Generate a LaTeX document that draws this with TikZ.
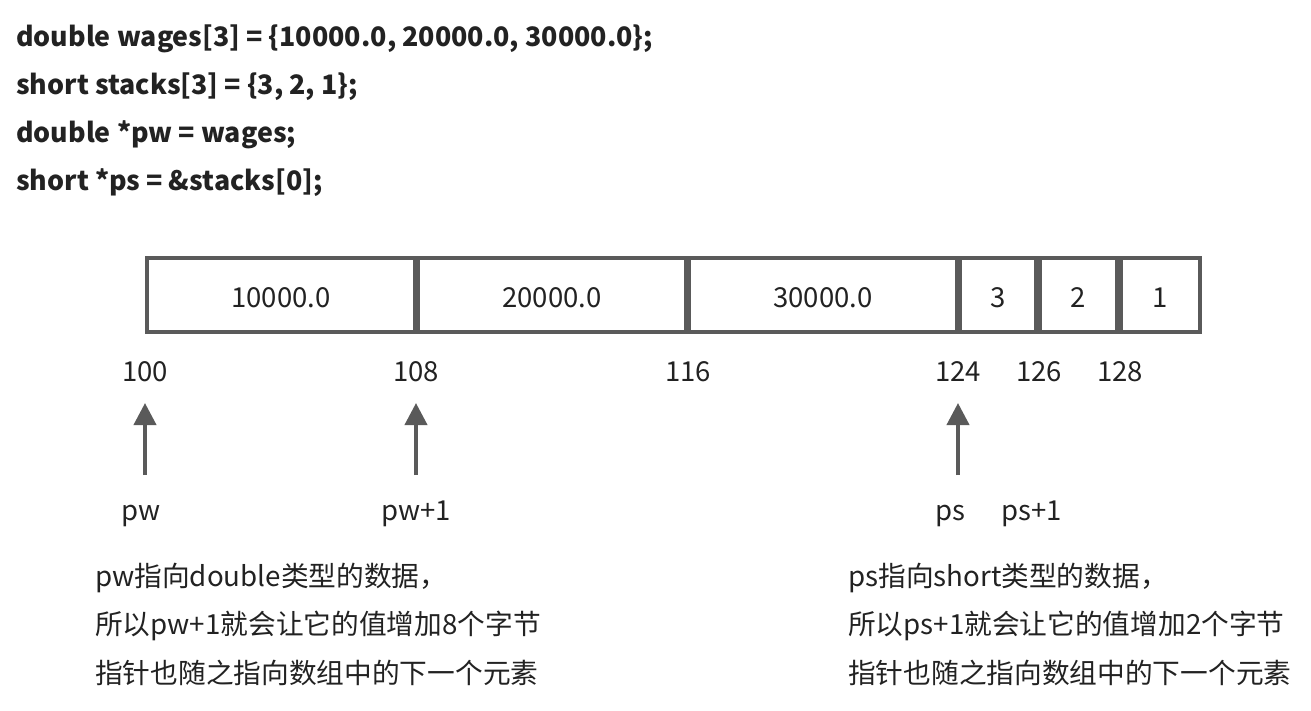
\documentclass[tikz,border=0pt]{standalone}
\usepackage{fontspec}
\setmainfont{Noto Sans CJK SC}
\usetikzlibrary{arrows.meta}
\definecolor{boxgray}{HTML}{5A5A5A}
\definecolor{txt}{HTML}{222222}
\tikzset{
  cell/.style={draw=boxgray, line width=3.5pt, minimum height=74pt, inner sep=0pt, text height=24pt, text depth=0pt, text=txt, font=\fontsize{27.5}{27.5}\selectfont},
  addr/.style={text=txt, font=\fontsize{27.5}{27.5}\selectfont, inner sep=0pt},
  code/.style={anchor=west, text=txt, font=\fontsize{26.8}{26.8}\selectfont\bfseries, inner sep=0pt},
  note/.style={anchor=west, text=txt, font=\fontsize{27.7}{27.7}\selectfont, inner sep=0pt},
  ptr/.style={draw=boxgray, line width=4pt, -{Triangle[length=22pt,width=22pt]}}
}
\begin{document}
\begin{tikzpicture}[x=1pt,y=-1pt]
\useasboundingbox (0,0) rectangle (1311,710);
% code
\node[code] (c1) at (16,39) {double wages[3] = \{10000.0, 20000.0, 30000.0\};};
\node[code] (c2) at (16,87) {short stacks[3] = \{3, 2, 1\};};
\node[code] (c3) at (16,135) {double *pw = wages;};
\node[code] (c4) at (16,183) {short *ps = \&stacks[0];};
% cells
\node[cell, minimum width=268pt] (b1) at (281,295) {10000.0};
\node[cell, minimum width=268pt] (b2) at (552,295) {20000.0};
\node[cell, minimum width=268pt] (b3) at (823,295) {30000.0};
\node[cell, minimum width=76pt] (b4) at (998,295) {3};
\node[cell, minimum width=77pt] (b5) at (1078.5,295) {2};
\node[cell, minimum width=79pt] (b6) at (1160.5,295) {1};
% addresses
\node[addr] (a100) at (145,372) {100};
\node[addr] (a108) at (416,372) {108};
\node[addr] (a116) at (688,372) {116};
\node[addr] (a124) at (958,372) {124};
\node[addr] (a126) at (1039,372) {126};
\node[addr] (a128) at (1120,372) {128};
% arrows
\coordinate (t1) at (145,403); \coordinate (s1) at (145,475);
\coordinate (t2) at (416,403); \coordinate (s2) at (416,475);
\coordinate (t3) at (958,403); \coordinate (s3) at (958,475);
\draw[ptr] (s1) -- (t1);
\draw[ptr] (s2) -- (t2);
\draw[ptr] (s3) -- (t3);
% pointer labels
\node[addr, anchor=base] (pw) at (141,520) {pw};
\node[addr, anchor=base] (pw1) at (416,520) {pw+1};
\node[addr, anchor=base] (ps) at (950,520) {ps};
\node[addr, anchor=base] (ps1) at (1032,520) {ps+1};
% notes
\node[note] (l1) at (95,578) {pw指向double类型的数据，};
\node[note] (l2) at (95,626) {所以pw+1就会让它的值增加8个字节};
\node[note] (l3) at (95,673) {指针也随之指向数组中的下一个元素};
\node[note] (r1) at (848,578) {ps指向short类型的数据，};
\node[note] (r2) at (848,626) {所以ps+1就会让它的值增加2个字节};
\node[note] (r3) at (848,673) {指针也随之指向数组中的下一个元素};
\end{tikzpicture}
\end{document}
